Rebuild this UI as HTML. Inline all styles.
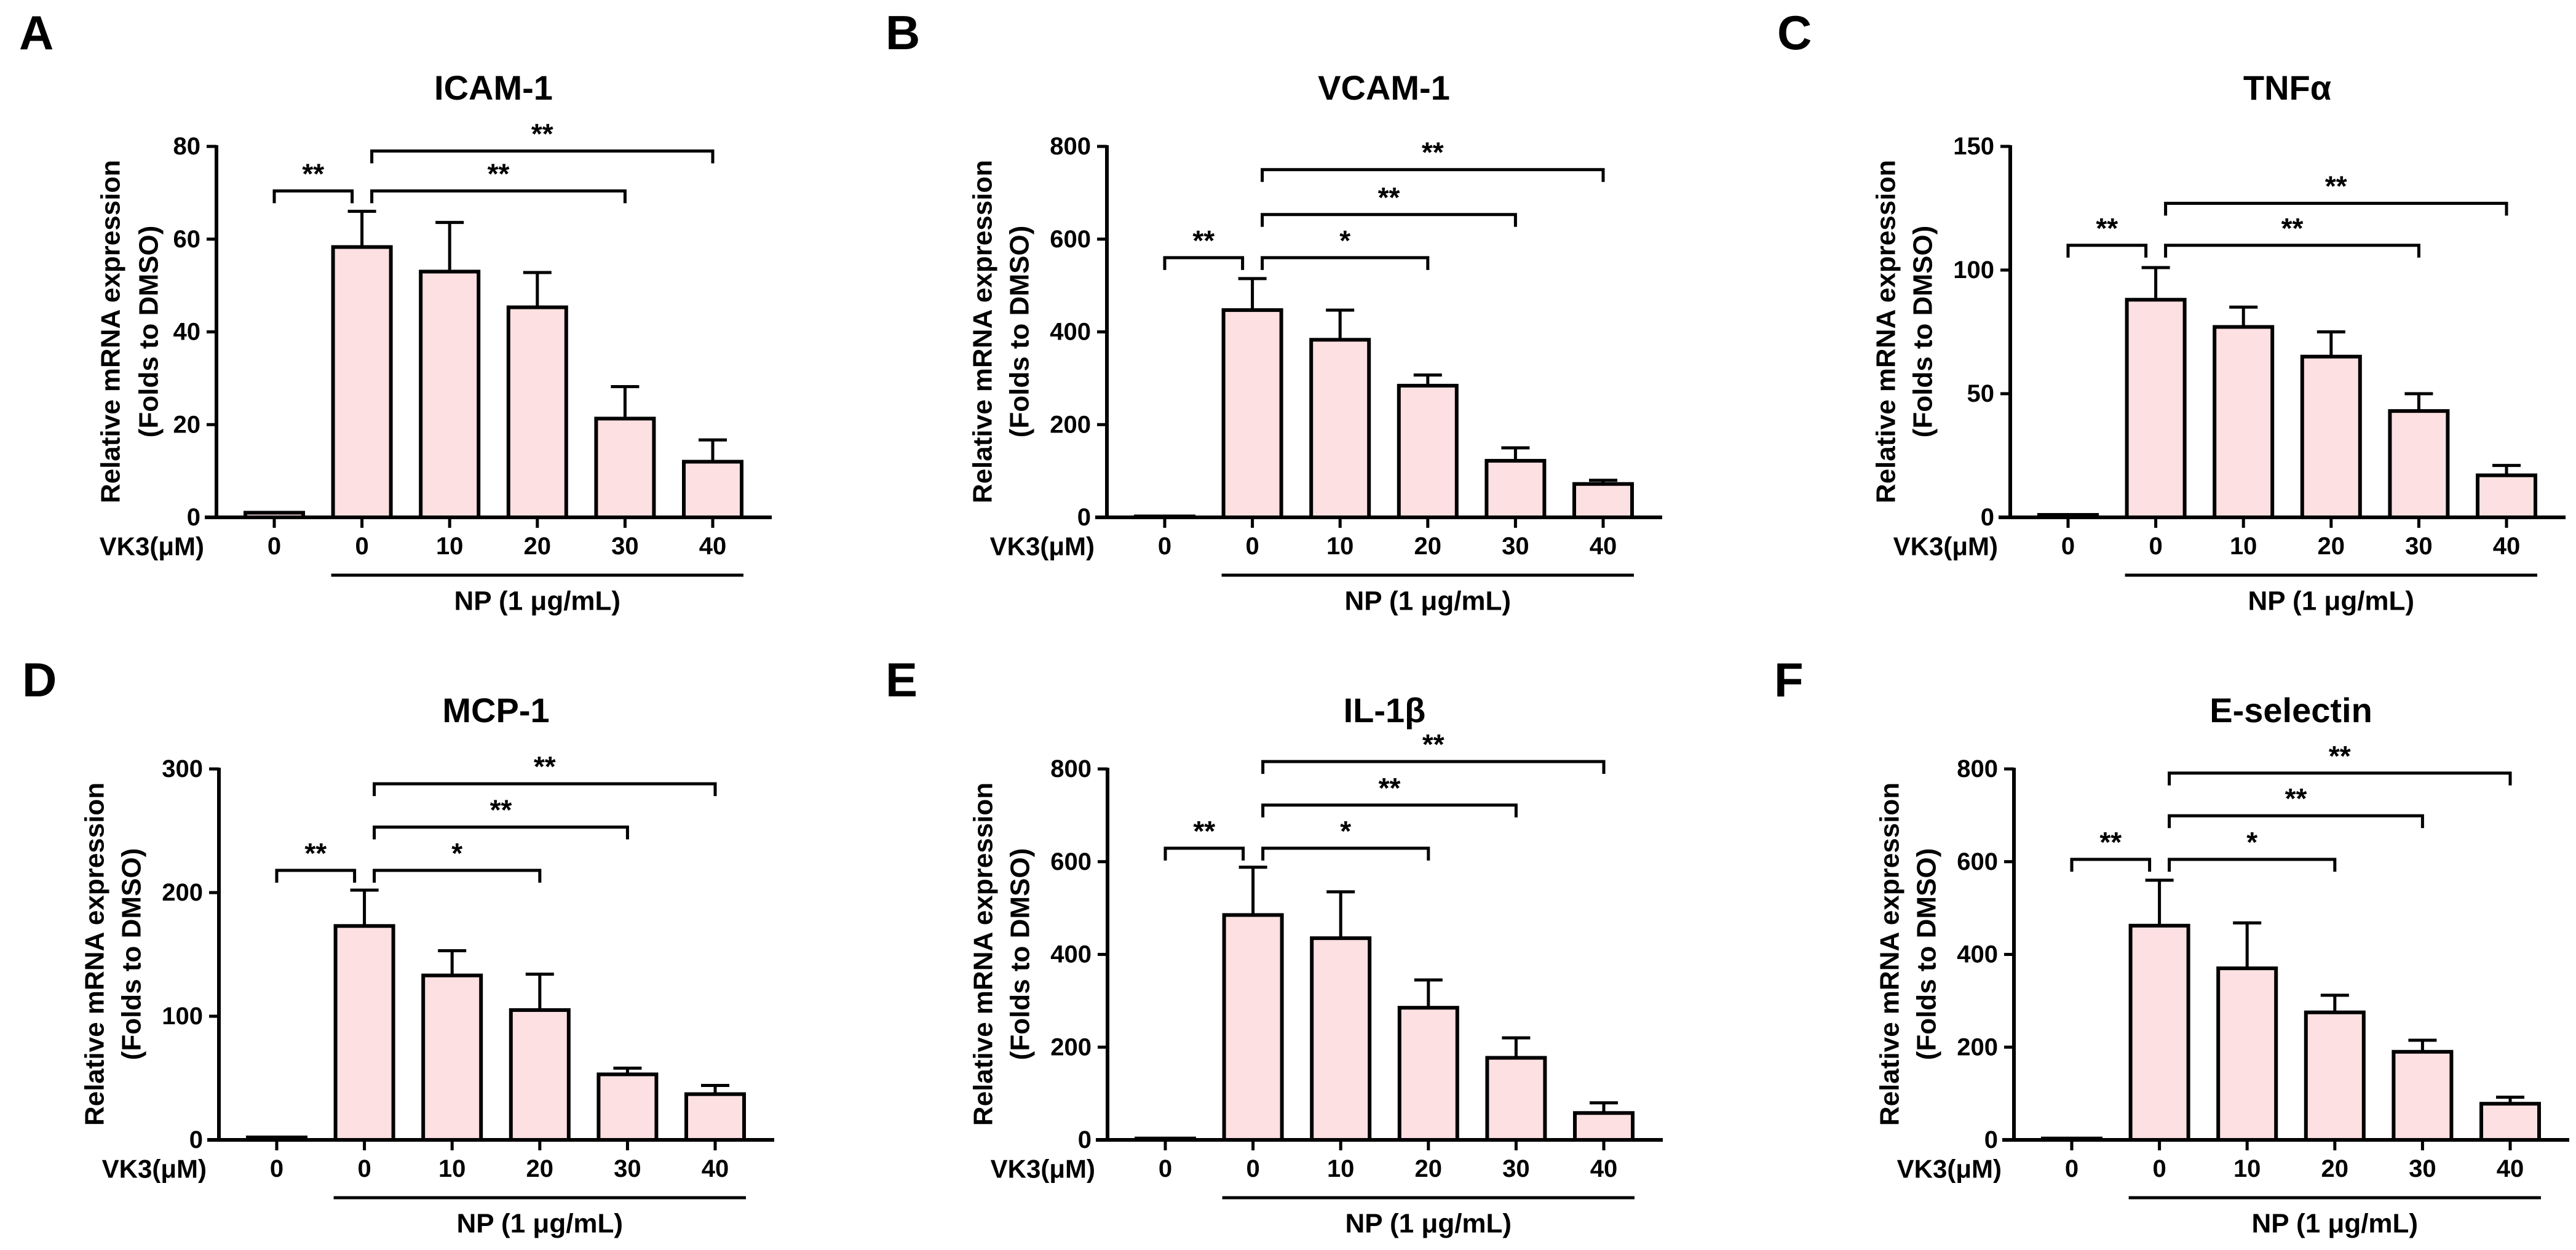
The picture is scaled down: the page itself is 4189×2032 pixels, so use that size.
<!DOCTYPE html>
<html><head><meta charset="utf-8"><style>
html,body{margin:0;padding:0;background:#fff}
svg{display:block}
text{font-family:"Liberation Sans",Arial,sans-serif;font-weight:bold;fill:#000}
</style></head><body>
<svg id="fig" xmlns="http://www.w3.org/2000/svg" width="4189" height="2032" viewBox="0 0 4189 2032"></svg>
<script>
// ---- data ----
const panelLetters = ["A","B","C","D","E","F"];
const panelTitles = ["ICAM-1","VCAM-1","TNFα","MCP-1","IL-1β","E-selectin"];
const doseLabels = ["0","0","10","20","30","40"];
const yMax = [80,800,150,300,800,800];
const yTicksA = [0,20,40,60,80];
const yTicksB = [0,200,400,600,800];
const yTicksC = [0,50,100,150];
const yTicksD = [0,100,200,300];
const yTicksE = [0,200,400,600,800];
const yTicksF = [0,200,400,600,800];
const meansA = [1,58.3,53,45.3,21.3,12];
const meansB = [2,447,383,284,122,72];
const meansC = [1,88,77,65,43,17];
const meansD = [2,173,133,105,53,37];
const meansE = [3,485,435,285,177,58];
const meansF = [3,462,370,275,190,78];
const errTopA = [null,66,63.6,52.8,28.2,16.7];
const errTopB = [null,515,447,307,150,80];
const errTopC = [null,101,85,75,50,21];
const errTopD = [null,202,153,134,58,44];
const errTopE = [null,588,535,345,220,80];
const errTopF = [null,560,468,312,215,92];
// brackets: [fromIndex, toIndex, level (data units), label]
const bracketsA = [[0,1,70.4,"**"],[1,4,70.4,"**"],[1,5,79,"**"]];
const bracketsB = [[0,1,560,"**"],[1,3,560,"*"],[1,4,653,"**"],[1,5,750,"**"]];
const bracketsC = [[0,1,110,"**"],[1,4,110,"**"],[1,5,127,"**"]];
const bracketsD = [[0,1,218,"**"],[1,3,218,"*"],[1,4,253,"**"],[1,5,288,"**"]];
const bracketsE = [[0,1,629,"**"],[1,3,629,"*"],[1,4,722,"**"],[1,5,816,"**"]];
const bracketsF = [[0,1,605,"**"],[1,3,605,"*"],[1,4,699,"**"],[1,5,791,"**"]];

const ticksAll = [yTicksA,yTicksB,yTicksC,yTicksD,yTicksE,yTicksF];
const meansAll = [meansA,meansB,meansC,meansD,meansE,meansF];
const errAll = [errTopA,errTopB,errTopC,errTopD,errTopE,errTopF];
const brAll = [bracketsA,bracketsB,bracketsC,bracketsD,bracketsE,bracketsF];

// ---- layout ----
const axisX = [352,1800,3269,356,1801,3275];
const topY = [238,238,238,1250,1250,1250];
const letterX = [31,1440,2890,36,1440,2885];
const letterBase = [80,80,80,1132,1132,1132];
const PH = 603, STEP = 142.6, OFF = 94, BW = 94;
const NS = "http://www.w3.org/2000/svg";
const svg = document.getElementById("fig");

function mk(tag, attrs, parent, txt){
  const e = document.createElementNS(NS, tag);
  for (const k in attrs) e.setAttribute(k, attrs[k]);
  if (txt !== undefined) e.textContent = txt;
  parent.appendChild(e);
  return e;
}

for (let p=0;p<6;p++){
  const g = mk("g",{},svg);
  
  
  const ax = axisX[p], ty = topY[p], zy = ty + PH, max = yMax[p];
  const yS = v => zy - v / max * PH;
  const xS = i => ax + OFF + STEP * i;

  const L = mk("text",{x:letterX[p], y:letterBase[p], "font-size":78},g,panelLetters[p]);
  
  

  const T = mk("text",{x:(xS(0)+xS(5))/2, y:ty-76, "font-size":56, "text-anchor":"middle"},g,panelTitles[p]);
  
  

  // y label
  const big = max >= 100;
  const l1 = big ? -202 : -172, l2 = big ? -142 : -110;
  const cy = zy - 302;
  const yl1 = mk("text",{x:ax+l1, y:cy, "font-size":44, "text-anchor":"middle", "dominant-baseline":"central", transform:`rotate(-90 ${ax+l1} ${cy})`},g,"Relative mRNA expression");
  
  
  const yl2 = mk("text",{x:ax+l2, y:cy, "font-size":44, "text-anchor":"middle", "dominant-baseline":"central", transform:`rotate(-90 ${ax+l2} ${cy})`},g,"(Folds to DMSO)");
  
  

  // bars
  const m = meansAll[p], e = errAll[p];
  for (let i=0;i<6;i++){
    const cx = xS(i);
    if (e[i] !== null){
      const el = mk("path",{d:`M${cx} ${yS(m[i])} V${yS(e[i])} M${cx-23} ${yS(e[i])} H${cx+23}`, stroke:"#000","stroke-width":5, fill:"none"},g);
      
      
    }
    const h = zy - yS(m[i]);
    const r = mk("rect",{x:cx-BW/2, y:yS(m[i]), width:BW, height:Math.max(h,1), fill:"#fde0e1", stroke:"#000","stroke-width":6},g);
    
    
  }

  // axes
  const ya = mk("line",{x1:ax,y1:ty-2,x2:ax,y2:zy,stroke:"#000","stroke-width":6},g);
  
  
  const xa = mk("line",{x1:ax-19,y1:zy,x2:ax+903,y2:zy,stroke:"#000","stroke-width":6},g);
  
  

  ticksAll[p].forEach(v=>{
    mk("line",{x1:ax-16,y1:yS(v),x2:ax,y2:yS(v),stroke:"#000","stroke-width":5},g);
    const t = mk("text",{x:ax-26, y:yS(v), "font-size":40, "text-anchor":"end", "dominant-baseline":"central"},g,String(v));
    
    
  });
  for (let i=0;i<6;i++){
    mk("line",{x1:xS(i),y1:zy,x2:xS(i),y2:zy+17,stroke:"#000","stroke-width":5},g);
    const t = mk("text",{x:xS(i), y:zy+47, "font-size":40, "text-anchor":"middle", "dominant-baseline":"central"},g,doseLabels[i]);
    
    
  }
  const vk = mk("text",{x:ax-20, y:zy+47, "font-size":42, "text-anchor":"end", "dominant-baseline":"central"},g,"VK3(μM)");
  
  

  const np = mk("line",{x1:xS(1)-BW/2-3,y1:zy+94,x2:xS(5)+BW/2+3,y2:zy+94,stroke:"#000","stroke-width":5},g);
  
  
  const npt = mk("text",{x:(xS(1)+xS(5))/2, y:zy+136, "font-size":44, "text-anchor":"middle", "dominant-baseline":"central"},g,"NP (1 μg/mL)");
  
  

  // significance brackets
  brAll[p].forEach(b=>{
    const y = yS(b[2]);
    const x1 = b[0]===0 ? xS(0) : xS(b[0]) + 16;
    const x2 = b[0]===0 ? xS(1) - 16 : xS(b[1]);
    const pth = mk("path",{d:`M${x1} ${y+20} V${y} H${x2} V${y+20}`, stroke:"#000","stroke-width":5, fill:"none"},g);
    
    
    const st = mk("text",{x:(x1+x2)/2, y:y-12, "font-size":46, "text-anchor":"middle"},g,b[3]);
    
    
  });
}
</script>
</body></html>
